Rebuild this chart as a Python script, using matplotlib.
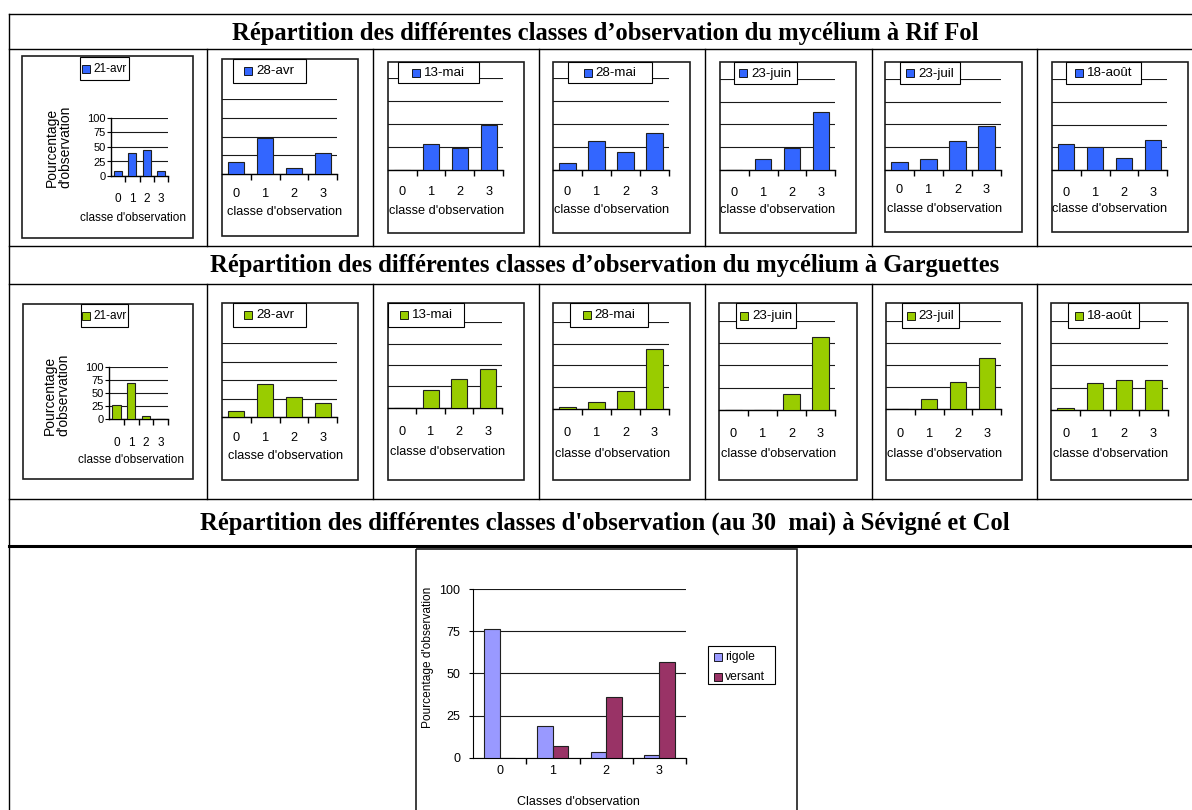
import matplotlib
matplotlib.use('Agg')
import matplotlib.pyplot as plt
import numpy as np
from matplotlib.patches import Rectangle
from matplotlib.lines import Line2D
from matplotlib.transforms import Affine2D

W, H = 1192, 810

# ---------------- data ----------------
classes = ['0', '1', '2', '3']
dates = ['21-avr', '28-avr', '13-mai', '28-mai', '23-juin', '23-juil', '18-août']
rif_fol = [
    [8, 40, 44, 8],
    [16, 48, 8, 28],
    [0, 28, 24, 49],
    [8, 32, 20, 40],
    [0, 12, 24, 64],
    [8, 12, 32, 48],
    [29, 25, 13, 33],
]
garguettes = [
    [26, 68, 5, 0],
    [8, 45, 28, 19],
    [0, 21, 34, 45],
    [2, 8, 21, 69],
    [0, 0, 18, 82],
    [0, 11, 31, 58],
    [2, 30, 34, 34],
]
series_names = ['rigole', 'versant']
rigole = [76, 18.5, 3.5, 1.5]
versant = [0, 7, 36, 57]
y_ticks = [0, 25, 50, 75, 100]

titles = [
    "Répartition des différentes classes d’observation du mycélium à Rif Fol",
    "Répartition des différentes classes d’observation du mycélium à Garguettes",
    "Répartition des différentes classes d'observation (au 30  mai) à Sévigné et Col",
]
xlabel_small = "classe d'observation"
ylabel_small = "Pourcentage\nd'observation"
xlabel_big = "Classes d'observation"
ylabel_big = "Pourcentage d'observation"

BLUE = '#3366ff'
GREEN = '#99cc00'
C_RIG = '#9999ff'
C_VER = '#993366'

# ---------------- layout (pixels) ----------------
row1_layout = [
    dict(box=(22, 56, 193, 238), plot=(111, 168, 118, 176), leg=(80, 57, 129, 80), ticky=197, xl=(133, 218), yl=(59, 147)),
    dict(box=(222, 59, 358, 236), plot=(222, 337, 99, 174), leg=(233, 59, 306, 83), ticky=193, xl=(285, 212)),
    dict(box=(388, 62, 524, 233), plot=(388, 503, 78, 170), leg=(398, 62, 479, 83), ticky=191, xl=(447, 211)),
    dict(box=(553, 62, 690, 233), plot=(553, 669, 78, 170), leg=(568, 62, 652, 83), ticky=191, xl=(612, 210)),
    dict(box=(720, 62, 856, 233), plot=(720, 835, 79, 169.5), leg=(734, 62, 797, 84), ticky=192, xl=(778, 210)),
    dict(box=(885, 62, 1022, 232), plot=(885, 1001, 79, 169.5), leg=(900, 62, 960, 84), ticky=189, xl=(945, 208.5)),
    dict(box=(1052, 62, 1188, 232), plot=(1052, 1167, 79, 170), leg=(1066, 62, 1141, 84), ticky=192, xl=(1110, 209.5)),
]
row2_layout = [
    dict(box=(23, 304, 193, 479), plot=(109, 168, 366.7, 419), leg=(81, 304, 128, 327), ticky=441.5, xl=(130.5, 460), yl=(57, 395)),
    dict(box=(222, 303, 358, 480), plot=(222, 337, 343.3, 417.3), leg=(233, 303, 306, 327), ticky=436.5, xl=(285.5, 456)),
    dict(box=(388, 303, 524, 480), plot=(388, 502, 322.3, 407.7), leg=(388, 303, 464, 327), ticky=430.5, xl=(447.5, 452.3)),
    dict(box=(553, 303, 690, 480), plot=(553, 669, 321.7, 409), leg=(570, 303, 648, 327), ticky=431.5, xl=(613, 454)),
    dict(box=(719, 303, 857, 480), plot=(719, 835, 321.3, 409.7), leg=(736, 303, 796, 328), ticky=432.5, xl=(779, 454)),
    dict(box=(886, 303, 1022, 480), plot=(886, 1001, 321.3, 409), leg=(902, 303, 959, 328), ticky=432.5, xl=(945, 454)),
    dict(box=(1051, 303, 1188, 480), plot=(1051, 1168, 321.3, 409.7), leg=(1068, 303, 1139, 328), ticky=432.5, xl=(1111, 454)),
]

SANS = ['Liberation Sans', 'DejaVu Sans']
SERIF = ['Liberation Serif', 'DejaVu Serif']
plt.rcParams['font.family'] = SANS

fig = plt.figure(figsize=(W / 100, H / 100), dpi=100)
fig.patch.set_facecolor('white')
T = Affine2D().scale(1.0 / W, -1.0 / H).translate(0, 1) + fig.transFigure
renderer = fig.canvas.get_renderer()


def hline(y, x0, x1, lw=1.0):
    fig.add_artist(Line2D([x0, x1], [y, y], transform=T, color='black', lw=lw, zorder=-2))


def vline(x, y0, y1, lw=1.0):
    fig.add_artist(Line2D([x, x], [y0, y1], transform=T, color='black', lw=lw, zorder=-2))


# table grid
for y in [14, 49, 246, 284, 499]:
    hline(y, 9, W + 5)
hline(546, 9, W + 5, lw=2.2)
vline(9, 14, H + 5)
for x in [207, 373, 539, 705, 872, 1037]:
    vline(x, 49, 246)
    vline(x, 284, 499)

# titles
for t, yb in zip(titles, [40, 272, 530]):
    fig.text(605 / W, 1 - yb / H, t, family=SERIF, weight='bold', fontsize=17.7,
             ha='center', va='baseline')


def small_legend(x0, y0, x1, y1, label, color, fs):
    fig.add_artist(Rectangle((x0, y0), x1 - x0, y1 - y0, transform=T, facecolor='white',
                             edgecolor='black', lw=0.8, zorder=5))
    t = fig.text(0, 0, label, transform=T, fontsize=fs, ha='left', va='center', zorder=6)
    wpx = t.get_window_extent(renderer).width
    sq, gap = 8, 4
    total = sq + gap + wpx
    sx = (x0 + x1) / 2 - total / 2
    cy = (y0 + y1) / 2
    fig.add_artist(Rectangle((sx, cy - sq / 2), sq, sq, transform=T, facecolor=color,
                             edgecolor='black', lw=0.6, zorder=6))
    t.set_position((sx + sq + gap, cy + 0.5))


def small_chart(lay, vals, label, color, first):
    fs_tick = 8.5 if first else 9.2
    fs_lab = 8.5 if first else 9.2
    fs_leg = 8.5 if first else 9.6
    bx0, by0, bx1, by1 = lay['box']
    fig.add_artist(Rectangle((bx0, by0), bx1 - bx0, by1 - by0, transform=T, fill=False,
                             edgecolor='#1e1e1e', lw=1.2, zorder=-1))
    xl, xr, yt, yb = lay['plot']
    ax = fig.add_axes([xl / W, 1 - yb / H, (xr - xl) / W, (yb - yt) / H])
    ax.patch.set_visible(False)
    x = np.arange(len(classes))
    ax.bar(x, vals, width=0.56, color=color, edgecolor='#202020', linewidth=0.8, zorder=3)
    ax.set_xlim(-0.5, 3.5)
    ax.set_ylim(0, 100)
    ax.set_yticks(y_ticks)
    ax.yaxis.grid(True, color='#1a1a1a', linewidth=0.8)
    ax.set_axisbelow(True)
    for s in ['top', 'right']:
        ax.spines[s].set_visible(False)
    ax.spines['bottom'].set_linewidth(1.0)
    ax.set_xticks(x)
    ax.set_xticklabels(classes, fontsize=fs_tick)
    ax.set_xticks([0.5, 1.5, 2.5, 3.5], minor=True)
    pad = (lay['ticky'] - yb - 0.37 * fs_tick * 100 / 72) * 0.72
    ax.tick_params(axis='x', which='major', length=0, pad=pad)
    ax.tick_params(axis='x', which='minor', length=4, width=1, direction='out')
    ax.set_xlabel(xlabel_small, fontsize=fs_lab, va='center', ha='center')
    lx, ly = lay['xl']
    ax.xaxis.set_label_coords((lx - xl) / (xr - xl), (yb - ly) / (yb - yt))
    if first:
        ax.spines['left'].set_linewidth(1.0)
        ax.set_yticklabels([str(v) for v in y_ticks], fontsize=8)
        ax.tick_params(axis='y', length=3, direction='out', pad=1)
        ax.set_ylabel(ylabel_small, fontsize=10, linespacing=0.95, va='center', ha='center')
        px, py = lay['yl']
        ax.yaxis.set_label_coords((px - xl) / (xr - xl), (yb - py) / (yb - yt))
    else:
        ax.spines['left'].set_visible(False)
        ax.tick_params(axis='y', length=0, labelleft=False)
    lx0, ly0, lx1, ly1 = lay['leg']
    small_legend(lx0, ly0, lx1, ly1, label, color, fs_leg)
    return ax


for i, (lay, vals, d) in enumerate(zip(row1_layout, rif_fol, dates)):
    small_chart(lay, vals, d, BLUE, i == 0)
for i, (lay, vals, d) in enumerate(zip(row2_layout, garguettes, dates)):
    small_chart(lay, vals, d, GREEN, i == 0)

# ---------------- bottom chart ----------------
fig.add_artist(Rectangle((416, 549), 797 - 416, 265, transform=T, fill=False,
                         edgecolor='#1e1e1e', lw=1.2, zorder=-1))
xl, xr, yt, yb = 473, 686, 589, 757.7
ax = fig.add_axes([xl / W, 1 - yb / H, (xr - xl) / W, (yb - yt) / H])
ax.patch.set_visible(False)
xb = np.arange(len(classes))
bw = 0.29
ax.bar(xb - bw / 2, rigole, bw, color=C_RIG, edgecolor='#202020', linewidth=0.8, zorder=3)
ax.bar(xb + bw / 2, versant, bw, color=C_VER, edgecolor='#202020', linewidth=0.8, zorder=3)
ax.set_xlim(-0.5, 3.5)
ax.set_ylim(0, 100)
ax.set_yticks(y_ticks)
ax.set_yticklabels([str(v) for v in y_ticks], fontsize=9)
ax.yaxis.grid(True, color='#1a1a1a', linewidth=0.8)
ax.set_axisbelow(True)
for s in ['top', 'right']:
    ax.spines[s].set_visible(False)
ax.tick_params(axis='y', length=3, direction='out', pad=6)
ax.set_xticks(xb)
ax.set_xticklabels(classes, fontsize=9)
ax.set_xticks([0.5, 1.5, 2.5, 3.5], minor=True)
ax.tick_params(axis='x', which='major', length=0, pad=5.5)
ax.tick_params(axis='x', which='minor', length=4, width=1, direction='out')
ax.set_xlabel(xlabel_big, fontsize=9, va='center', ha='center')
ax.xaxis.set_label_coords((578 - xl) / (xr - xl), (yb - 802) / (yb - yt))
ax.set_ylabel(ylabel_big, fontsize=8.6, va='center', ha='center')
ax.yaxis.set_label_coords((428 - xl) / (xr - xl), (yb - 657) / (yb - yt))

# bottom legend
fig.add_artist(Rectangle((708, 646), 67, 38, transform=T, facecolor='white',
                         edgecolor='black', lw=0.8, zorder=5))
for name, c, cy in zip(series_names, [C_RIG, C_VER], [656.7, 676.7]):
    fig.add_artist(Rectangle((714, cy - 4), 8, 8, transform=T, facecolor=c,
                             edgecolor='black', lw=0.6, zorder=6))
    fig.text(725, cy + 0.5, name, transform=T, fontsize=8.7, ha='left', va='center', zorder=6)

fig.savefig('out.png', dpi=100, facecolor='white')
